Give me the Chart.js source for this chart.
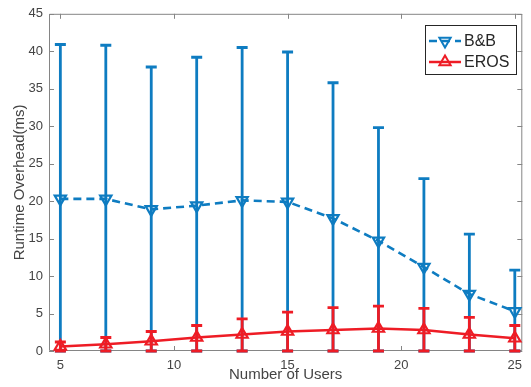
<!DOCTYPE html>
<html>
<head>
<meta charset="utf-8">
<script src="https://cdn.jsdelivr.net/npm/chart.js@4/dist/chart.umd.min.js"></script>
<style>
  html, body { margin: 0; padding: 0; background: #ffffff; }
  #wrap { width: 531px; height: 387px; position: relative; }
</style>
</head>
<body>
<div id="wrap"><canvas id="chart" width="531" height="387"></canvas></div>
<script>
// Number of users on the x axis
const users = [5, 7, 9, 11, 13, 15, 17, 19, 21, 23, 25];

// B&B: mean runtime overhead (ms) with lower / upper error-bar ends
const bbMean  = [20.3, 20.3, 18.9, 19.4, 20.1, 19.9, 17.7, 14.7, 11.2, 7.6, 5.3];
const bbLow   = [0, 0, 0, 0, 0, 0, 0, 0, 0, 0, 0];
const bbHigh  = [40.9, 40.8, 37.9, 39.2, 40.5, 39.9, 35.8, 29.8, 23.0, 15.6, 10.8];

// EROS: mean runtime overhead (ms) with lower / upper error-bar ends
const erosMean = [0.6, 0.9, 1.3, 1.8, 2.2, 2.6, 2.8, 3.0, 2.8, 2.2, 1.7];
const erosLow  = [0, 0, 0, 0, 0, 0, 0, 0, 0, 0, 0];
const erosHigh = [1.2, 1.8, 2.6, 3.4, 4.3, 5.2, 5.8, 6.0, 5.7, 4.5, 3.4];

// Tick labels
const xTicks = [5, 10, 15, 20, 25];
const yTicks = [0, 5, 10, 15, 20, 25, 30, 35, 40, 45];

const BLUE = '#0e7cc1';
const RED = '#ee1c25';
const AXIS = '#858585';
const TEXT = '#444444';
const FONT = "'Liberation Sans', Arial, Helvetica, sans-serif";

const toPoints = (xs, ys) => xs.map((x, i) => ({ x: x, y: ys[i] }));

// Vertical error bars with caps, drawn beneath each dataset's line and markers
const errorBars = {
  id: 'errorBars',
  beforeDatasetDraw(chart, args) {
    const ds = chart.data.datasets[args.index];
    if (!ds.errLow) return;
    const { ctx, scales: { x, y } } = chart;
    const cap = 5.5;
    ctx.save();
    ctx.strokeStyle = ds.borderColor;
    ctx.lineWidth = 2.8;
    ctx.setLineDash([]);
    ctx.lineCap = 'butt';
    users.forEach((u, i) => {
      const px = x.getPixelForValue(u);
      const lo = y.getPixelForValue(ds.errLow[i]);
      const hi = y.getPixelForValue(ds.errHigh[i]);
      ctx.beginPath();
      ctx.moveTo(px, lo);
      ctx.lineTo(px, hi);
      ctx.moveTo(px - cap, lo);
      ctx.lineTo(px + cap, lo);
      ctx.moveTo(px - cap, hi);
      ctx.lineTo(px + cap, hi);
      ctx.stroke();
    });
    ctx.restore();
  }
};

// Box around the plot area with inward tick marks on all four sides
const axesBox = {
  id: 'axesBox',
  beforeDatasetsDraw(chart) {
    const { ctx, chartArea: a, scales: { x, y } } = chart;
    const t = 5;
    ctx.save();
    ctx.strokeStyle = AXIS;
    ctx.lineWidth = 1;
    ctx.beginPath();
    ctx.rect(a.left + 0.5, a.top + 0.5, a.right - a.left - 1, a.bottom - a.top - 1);
    xTicks.forEach(v => {
      const px = Math.round(x.getPixelForValue(v)) + 0.5;
      ctx.moveTo(px, a.bottom);
      ctx.lineTo(px, a.bottom - t);
      ctx.moveTo(px, a.top);
      ctx.lineTo(px, a.top + t);
    });
    yTicks.forEach(v => {
      const py = Math.round(y.getPixelForValue(v)) + 0.5;
      ctx.moveTo(a.left, py);
      ctx.lineTo(a.left + t, py);
      ctx.moveTo(a.right, py);
      ctx.lineTo(a.right - t, py);
    });
    ctx.stroke();
    ctx.restore();
  }
};

// Legend box showing line style and marker for each series
const boxLegend = {
  id: 'boxLegend',
  afterDraw(chart) {
    const { ctx } = chart;
    const bx = 425.5, by = 25.5, bw = 91, bh = 49;
    ctx.save();
    ctx.fillStyle = '#ffffff';
    ctx.fillRect(bx, by, bw, bh);
    ctx.strokeStyle = '#262626';
    ctx.lineWidth = 1;
    ctx.strokeRect(bx, by, bw, bh);
    const entries = [chart.data.datasets[1], chart.data.datasets[0]];
    const rows = [41, 62];
    entries.forEach((ds, i) => {
      const cy = rows[i];
      ctx.strokeStyle = ds.borderColor;
      ctx.lineWidth = 2.5;
      ctx.setLineDash(ds.borderDash || []);
      ctx.beginPath();
      ctx.moveTo(429, cy);
      ctx.lineTo(461, cy);
      ctx.stroke();
      ctx.setLineDash([]);
      ctx.lineWidth = 2;
      ctx.fillStyle = 'rgba(0,0,0,0)';
      Chart.helpers.drawPoint(ctx, {
        pointStyle: 'triangle',
        radius: 6.5,
        rotation: ds.pointRotation || 0,
        borderWidth: 2
      }, 445, cy);
      ctx.fillStyle = '#262626';
      ctx.font = '16px ' + FONT;
      ctx.textAlign = 'left';
      ctx.textBaseline = 'middle';
      ctx.fillText(ds.label, 464, cy + 1);
    });
    ctx.restore();
  }
};

new Chart(document.getElementById('chart'), {
  type: 'line',
  data: {
    datasets: [
      {
        label: 'EROS',
        data: toPoints(users, erosMean),
        errLow: erosLow,
        errHigh: erosHigh,
        borderColor: RED,
        backgroundColor: 'rgba(0,0,0,0)',
        borderWidth: 2.6,
        pointStyle: 'triangle',
        pointRotation: 0,
        pointRadius: 6.5,
        pointBorderWidth: 2.2,
        pointBackgroundColor: 'rgba(0,0,0,0)',
        pointBorderColor: RED,
        tension: 0,
        clip: false,
        order: 1
      },
      {
        label: 'B&B',
        data: toPoints(users, bbMean),
        errLow: bbLow,
        errHigh: bbHigh,
        borderColor: BLUE,
        backgroundColor: 'rgba(0,0,0,0)',
        borderWidth: 2.6,
        borderDash: [8, 5],
        pointStyle: 'triangle',
        pointRotation: 180,
        pointRadius: 6.5,
        pointBorderWidth: 2.2,
        pointBackgroundColor: 'rgba(0,0,0,0)',
        pointBorderColor: BLUE,
        tension: 0,
        clip: false,
        order: 2
      }
    ]
  },
  options: {
    responsive: false,
    animation: false,
    devicePixelRatio: 1,
    layout: { padding: { top: 13, right: 2, left: 0, bottom: 0 } },
    plugins: {
      legend: { display: false },
      tooltip: { enabled: false }
    },
    scales: {
      x: {
        type: 'linear',
        min: 4.5,
        max: 25.33,
        afterBuildTicks: s => { s.ticks = xTicks.map(v => ({ value: v })); },
        afterFit: s => { s.height = 36; },
        grid: { display: false, drawTicks: false },
        border: { display: false },
        ticks: {
          padding: 7,
          color: TEXT,
          font: { family: FONT, size: 13 },
          maxRotation: 0,
          autoSkip: false
        },
        title: {
          display: true,
          text: 'Number of Users',
          color: TEXT,
          font: { family: FONT, size: 15 },
          padding: { top: 0, bottom: 3 }
        }
      },
      y: {
        type: 'linear',
        min: 0,
        max: 45,
        afterBuildTicks: s => { s.ticks = yTicks.map(v => ({ value: v })); },
        afterFit: s => { s.width = 49; },
        grid: { display: false, drawTicks: false },
        border: { display: false },
        ticks: {
          padding: 6,
          color: TEXT,
          font: { family: FONT, size: 13 },
          autoSkip: false
        },
        title: {
          display: true,
          text: 'Runtime Overhead(ms)',
          color: TEXT,
          font: { family: FONT, size: 15 },
          padding: { top: 11, bottom: 0 }
        }
      }
    }
  },
  plugins: [errorBars, axesBox, boxLegend]
});
</script>
</body>
</html>
